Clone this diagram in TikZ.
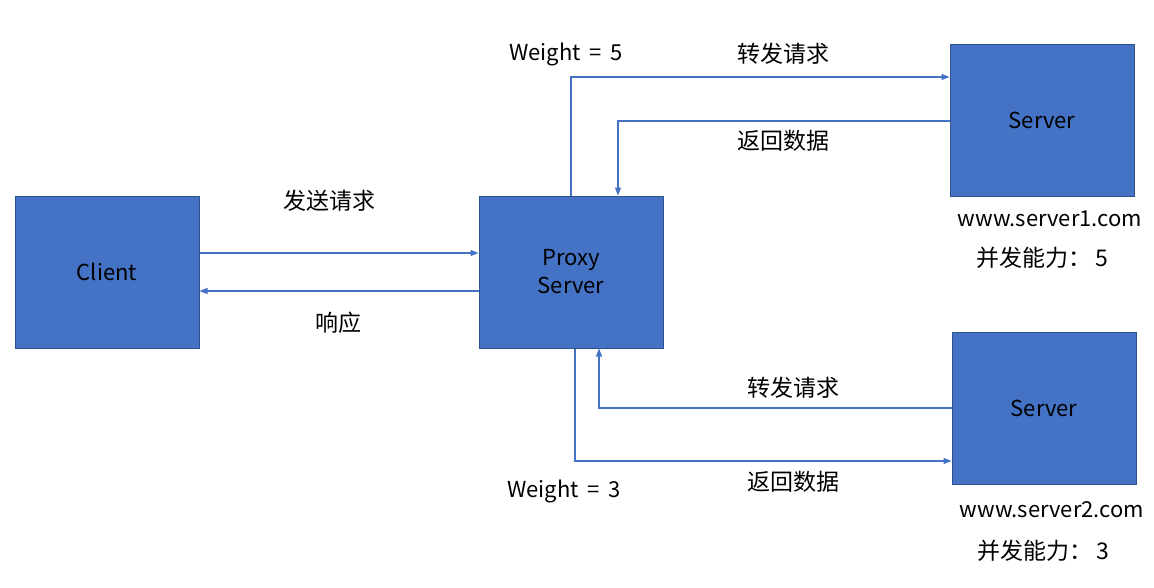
\documentclass[tikz,border=0pt]{standalone}
\usepackage{fontspec}
\setmainfont{Noto Sans CJK SC}
\usetikzlibrary{arrows.meta}
\definecolor{boxfill}{HTML}{4472C4}
\definecolor{boxline}{HTML}{2F528F}
\definecolor{arrowc}{HTML}{4472C4}
\begin{document}
\begin{tikzpicture}[x=1pt,y=-1pt,
  box/.style={draw=boxline,line width=1pt,fill=boxfill,minimum width=184pt,minimum height=152pt,inner sep=0pt,font=\fontsize{22}{28}\selectfont,text=black,align=center},
  lbl/.style={font=\fontsize{23}{28}\selectfont,text=black,inner sep=0pt},
  latin/.style={font=\fontsize{22}{28}\selectfont,text=black,inner sep=0pt},
  conn/.style={draw=arrowc,line width=1.1pt,-{Triangle[length=8pt,width=6pt]}}]
\useasboundingbox (0,0) rectangle (1154,587);
\node[box] (client) at (107,272) {Client};
\node[box] (proxy) at (571,272) {Proxy\\Server};
\node[box] (s1) at (1042,120) {Server};
\node[box] (s2) at (1044,408) {Server};
% client <-> proxy
\draw[conn] (client.east |- 0,253) -- (proxy.west |- 0,253);
\draw[conn] (proxy.west |- 0,291) -- (client.east |- 0,291);
\node[lbl] (l1) at (329,201) {发送请求};
\node[lbl] (l2) at (338,323) {响应};
% proxy <-> server1
\coordinate (p1) at (571,77);
\draw[conn] (proxy.north -| p1) -- (p1) -- (s1.west |- p1);
\coordinate (p2) at (618,121);
\draw[conn] (s1.west |- p2) -- (p2) -- (proxy.north -| p2);
\node[latin] (w5) at (566,54) {Weight\hspace{0.4em}=\hspace{0.4em}5};
\node[lbl] (l3) at (783,54) {转发请求};
\node[lbl] (l4) at (783,141) {返回数据};
% proxy <-> server2
\coordinate (p3) at (599,408);
\draw[conn] (s2.west |- p3) -- (p3) -- (proxy.south -| p3);
\coordinate (p4) at (575,461);
\draw[conn] (proxy.south -| p4) -- (p4) -- (s2.west |- p4);
\node[lbl] (l5) at (793,388) {转发请求};
\node[lbl] (l6) at (793,482) {返回数据};
\node[latin] (w3) at (564,491) {Weight\hspace{0.4em}=\hspace{0.4em}3};
% server captions
\node[latin] (u1) at (1050,219) {www.server1.com};
\node[lbl] (c1) at (1042,258) {并发能力：\,5};
\node[latin] (u2) at (1052,510) {www.server2.com};
\node[lbl] (c2) at (1043,551) {并发能力：\,3};
\end{tikzpicture}
\end{document}
